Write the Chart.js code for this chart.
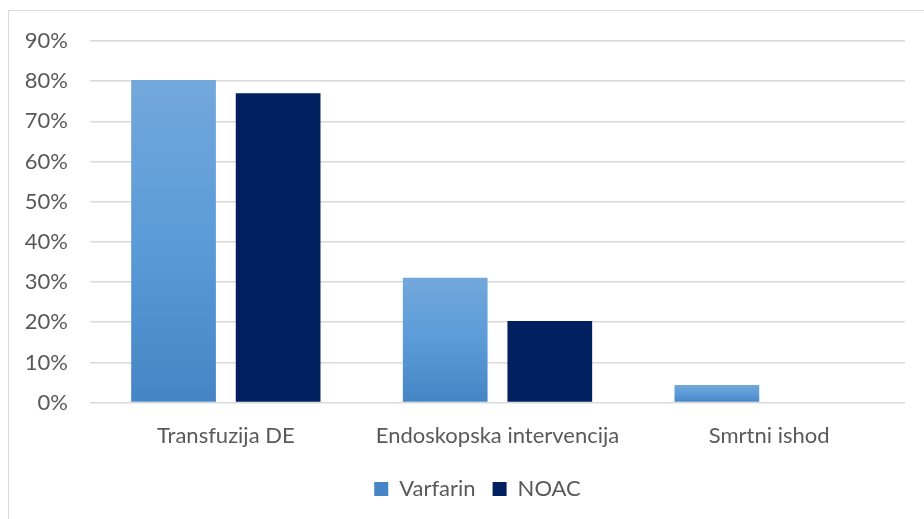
<!DOCTYPE html>
<html>
<head>
<meta charset="utf-8">
<script src="https://cdn.jsdelivr.net/npm/chart.js@4.4.1/dist/chart.umd.min.js"></script>
<style>
  html, body { margin: 0; padding: 0; background: #ffffff; }
  #wrap { width: 924px; height: 519px; position: relative; }
</style>
</head>
<body>
<div id="wrap"><canvas id="chart"></canvas></div>
<script>
// Data
const categories = ['Transfuzija DE', 'Endoskopska intervencija', 'Smrtni ishod'];
const varfarinValues = [80.3, 31.1, 4.4];
const noacValues = [77.0, 20.3, 0];
const seriesNames = ['Varfarin', 'NOAC'];

const textColor = '#595959';
const gridColor = '#d9d9d9';
const fontFamily = 'Lato, "Open Sans", sans-serif';
const fontSize = 22;

// Excel-style vertical gradient, one per bar
function varfarinFill(context) {
    const chart = context.chart;
    const yScale = chart.scales.y;
    if (!chart.chartArea || !yScale || context.raw === undefined) return '#5b9bd5';
    const top = yScale.getPixelForValue(context.raw);
    const bottom = yScale.getPixelForValue(0);
    if (!isFinite(top) || !isFinite(bottom) || bottom - top < 1) return '#5b9bd5';
    const g = chart.ctx.createLinearGradient(0, top, 0, bottom);
    g.addColorStop(0, '#73a8db');
    g.addColorStop(0.5, '#5b9bd8');
    g.addColorStop(1, '#4585c5');
    return g;
}

const frame = {
    id: 'frame',
    beforeDraw(chart) {
        const c = chart.ctx;
        c.save();
        c.strokeStyle = gridColor;
        c.lineWidth = 1;
        c.strokeRect(8.5, 10.5, 1200, 1200);
        c.restore();
    },
    // the legend sits a little right of the plot centre in the original
    afterLayout(chart) {
        if (chart.legend) {
            chart.legend.left += 25;
            chart.legend.right += 25;
        }
    }
};

new Chart(document.getElementById('chart'), {
    type: 'bar',
    data: {
        labels: categories,
        datasets: [{
            label: seriesNames[0],
            data: varfarinValues,
            backgroundColor: varfarinFill,
            categoryPercentage: 0.77,
            barPercentage: 0.81
        }, {
            label: seriesNames[1],
            data: noacValues,
            backgroundColor: '#002060',
            categoryPercentage: 0.77,
            barPercentage: 0.81
        }]
    },
    options: {
        responsive: true,
        maintainAspectRatio: false,
        animation: false,
        layout: {
            padding: { left: 0, right: 19, top: 41, bottom: 9 }
        },
        plugins: {
            legend: {
                position: 'bottom',
                labels: {
                    color: textColor,
                    font: { family: fontFamily, size: fontSize },
                    boxWidth: 14,
                    boxHeight: 14,
                    padding: 17
                }
            },
            tooltip: { enabled: false }
        },
        scales: {
            x: {
                grid: { display: false },
                border: { display: false },
                ticks: {
                    color: textColor,
                    font: { family: fontFamily, size: fontSize },
                    padding: 12
                }
            },
            y: {
                min: 0,
                max: 90,
                afterFit: (scale) => { scale.width = 90; },
                border: { display: false },
                grid: { color: gridColor, lineWidth: 1.5, drawTicks: false },
                ticks: {
                    stepSize: 10,
                    color: textColor,
                    font: { family: fontFamily, size: fontSize },
                    padding: 22,
                    callback: (v) => v + '%'
                }
            }
        }
    },
    plugins: [frame]
});
</script>
</body>
</html>
